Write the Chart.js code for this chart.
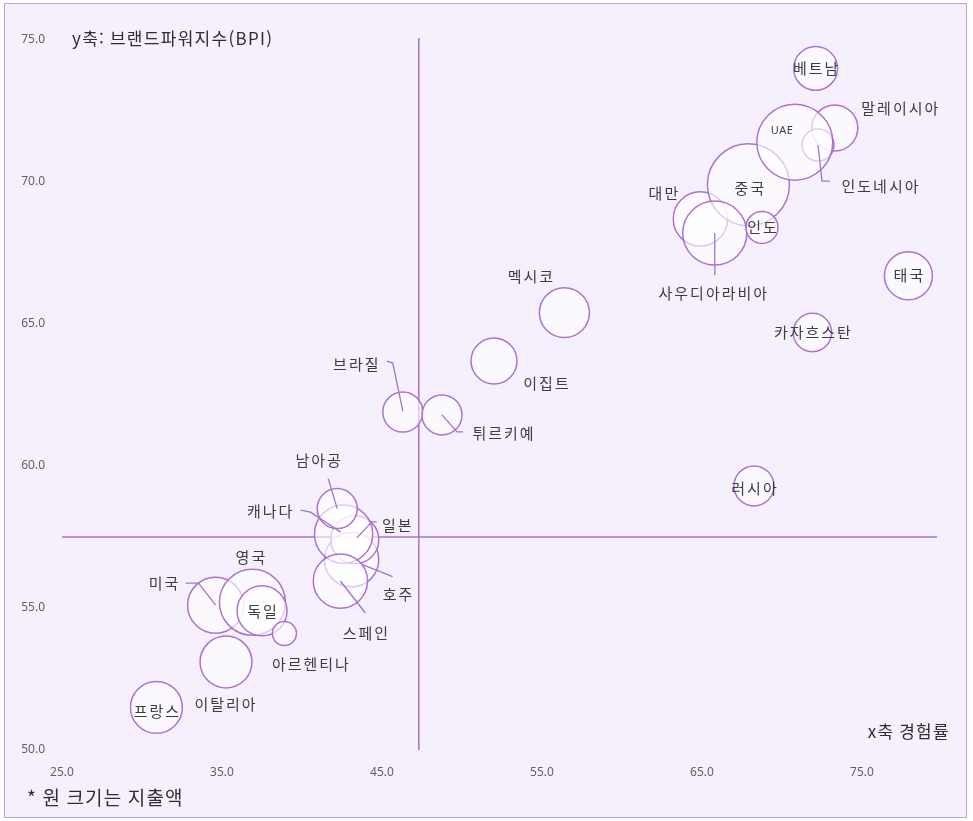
<!DOCTYPE html>
<html lang="ko">
<head>
<meta charset="utf-8">
<title>브랜드파워지수 · 경험률</title>
<script src="https://cdn.jsdelivr.net/npm/chart.js@4.4.1/dist/chart.umd.min.js"></script>
<style>
  html, body { margin: 0; padding: 0; background: #ffffff; }
  #frame {
    position: absolute; left: 4px; top: 3px; width: 963px; height: 815px;
    box-sizing: border-box; border: 1px solid #c3a0da; background: #f5f0fb;
  }
  #c { position: absolute; left: 0; top: 0; }
</style>
</head>
<body>
<div id="frame"></div>
<canvas id="c" width="973" height="821"></canvas>
<script>
// Countries, drawn in this order (later bubbles sit on top of earlier ones)
const countries = [
  '프랑스', '이탈리아', '미국', '영국', '독일', '아르헨티나',
  '호주', '일본', '캐나다', '남아공', '스페인',
  '브라질', '튀르키예', '이집트', '멕시코', '러시아', '카자흐스탄', '태국',
  '대만', '중국', '사우디아라비아', '인도', '말레이시아', '인도네시아', 'UAE', '베트남'
];
// x: 경험률
const experienceRate = [
  30.9, 35.25, 34.6, 36.9, 37.5, 38.9,
  43.1, 43.3, 42.6, 42.2, 42.4,
  46.3, 48.75, 52.0, 56.4, 68.25, 71.9, 77.9,
  64.9, 67.9, 65.8, 68.75, 73.3, 72.25, 70.8, 72.1
];
// y: 브랜드파워지수(BPI)
const brandPowerIndex = [
  51.5, 53.1, 55.1, 55.2, 54.9, 54.1,
  56.7, 57.4, 57.6, 58.5, 55.95,
  61.9, 61.8, 63.7, 65.4, 59.3, 64.7, 66.7,
  68.7, 69.9, 68.2, 68.4, 71.9, 71.3, 71.4, 74.0
];
// 지출액 (relative), shown as bubble area
const spend = [
  42, 42, 49, 68, 39, 9,
  46, 36, 53, 25, 46,
  25, 25, 33, 39, 25, 23, 36,
  46, 105, 64, 16, 33, 16, 90, 30
];
const xTickValues = [25, 35, 45, 55, 65, 75];
const yTickValues = [50, 55, 60, 65, 70, 75];
// quadrant divider lines
const dividerExperience = 47.3;
const dividerBPI = 57.5;

// label placement relative to each bubble centre, with optional leader lines
const labelLayout = {
  '베트남': { dx: 0, dy: 0 },
  '말레이시아': { dx: 65, dy: -20 },
  'UAE': { dx: -13, dy: -11, small: true },
  '인도네시아': { dx: 62, dy: 41, leader: [[0, 0], [4, 36], [12, 36]] },
  '중국': { dx: 1, dy: 3 },
  '대만': { dx: -37, dy: -26 },
  '사우디아라비아': { dx: -2, dy: 60, leader: [[0, 0], [0, 42]] },
  '인도': { dx: 0, dy: 0 },
  '태국': { dx: 0, dy: 0 },
  '카자흐스탄': { dx: 0, dy: 0 },
  '러시아': { dx: 0, dy: 2 },
  '멕시코': { dx: -34, dy: -36 },
  '이집트': { dx: 52, dy: 22 },
  '브라질': { dx: -47, dy: -48, leader: [[0, -1], [-10, -49], [-16, -51]] },
  '튀르키예': { dx: 61, dy: 18, leader: [[0, 0], [15, 17], [21, 17]] },
  '남아공': { dx: -19, dy: -48, leader: [[-9, -30], [0, 0]] },
  '캐나다': { dx: -74, dy: -23, leader: [[-43, -24], [-33, -22], [-3, -2]] },
  '일본': { dx: 42, dy: -15, leader: [[22, -18], [17, -18], [2, -2]] },
  '호주': { dx: 46, dy: 35, leader: [[41, 17], [11, 5]] },
  '스페인': { dx: 25, dy: 52, leader: [[0, 0], [25, 32]] },
  '영국': { dx: -2, dy: -45 },
  '미국': { dx: -52, dy: -22, leader: [[-30, -22], [-17, -22], [0, 0]] },
  '독일': { dx: 0, dy: 0 },
  '아르헨티나': { dx: 26, dy: 31 },
  '이탈리아': { dx: -1, dy: 42 },
  '프랑스': { dx: 0, dy: 4 }
};

const PURPLE = 'rgba(168, 108, 206, 0.95)';
const LINE_PURPLE = '#a474cc';
const TEXT = '#3d3d3d';
const KR_FONT = '"Noto Sans CJK KR", "Noto Sans", sans-serif';

const points = countries.map((name, i) => ({
  x: experienceRate[i],
  y: brandPowerIndex[i],
  r: 4 * Math.sqrt(spend[i]),
  name
}));

// draws text one glyph at a time with extra tracking between glyphs
function spacedText(ctx, text, x, y, spacing, align) {
  const chars = Array.from(text);
  const widths = chars.map(c => ctx.measureText(c).width);
  const total = widths.reduce((a, b) => a + b, 0) + spacing * (chars.length - 1);
  let start = x;
  if (align === 'center') start = x - total / 2;
  else if (align === 'right') start = x - total;
  const prev = ctx.textAlign;
  ctx.textAlign = 'left';
  chars.forEach((c, i) => {
    ctx.fillText(c, start, y);
    start += widths[i] + (c === ' ' ? 0 : spacing);
  });
  ctx.textAlign = prev;
}

// quadrant divider lines, drawn behind the bubbles
const dividerPlugin = {
  id: 'dividers',
  beforeDatasetsDraw(chart) {
    const { ctx, chartArea, scales: { x, y } } = chart;
    ctx.save();
    ctx.strokeStyle = LINE_PURPLE;
    ctx.lineWidth = 1.5;
    const vx = x.getPixelForValue(dividerExperience);
    const hy = y.getPixelForValue(dividerBPI);
    ctx.beginPath();
    ctx.moveTo(vx, chartArea.top - 2);
    ctx.lineTo(vx, chartArea.bottom);
    ctx.moveTo(chartArea.left, hy);
    ctx.lineTo(chartArea.right - 5, hy);
    ctx.stroke();
    ctx.restore();
  }
};

// country names, leader lines and axis captions
const labelPlugin = {
  id: 'countryLabels',
  afterDatasetsDraw(chart) {
    const { ctx, chartArea } = chart;
    const meta = chart.getDatasetMeta(0);
    ctx.save();
    ctx.textBaseline = 'middle';
    meta.data.forEach((el, i) => {
      const name = countries[i];
      const lay = labelLayout[name] || { dx: 0, dy: 0 };
      if (lay.leader) {
        ctx.strokeStyle = LINE_PURPLE;
        ctx.lineWidth = 1.3;
        ctx.beginPath();
        lay.leader.forEach(([lx, ly], k) => {
          if (k === 0) ctx.moveTo(el.x + lx, el.y + ly);
          else ctx.lineTo(el.x + lx, el.y + ly);
        });
        ctx.stroke();
      }
      ctx.fillStyle = TEXT;
      if (lay.small) {
        ctx.font = '11px "Noto Sans", sans-serif';
        spacedText(ctx, name, el.x + lay.dx, el.y + lay.dy, 0.5, 'center');
      } else {
        ctx.font = '15px ' + KR_FONT;
        spacedText(ctx, name, el.x + lay.dx, el.y + lay.dy, 2, 'center');
      }
    });

    ctx.fillStyle = '#2e2e2e';
    ctx.font = '17px ' + KR_FONT;
    spacedText(ctx, 'y축: 브랜드파워지수(BPI)', chartArea.left + 10, chartArea.top - 1, 1.3, 'left');
    spacedText(ctx, 'x축 경험률', chartArea.right + 8, chartArea.bottom - 18, 1.3, 'right');
    ctx.font = '19px ' + KR_FONT;
    spacedText(ctx, '* 원 크기는 지출액', 27, 798, 1.2, 'left');
    ctx.restore();
  }
};

new Chart(document.getElementById('c'), {
  type: 'bubble',
  data: {
    datasets: [{
      data: points,
      backgroundColor: 'rgba(255, 255, 255, 0.62)',
      borderColor: PURPLE,
      borderWidth: 1.5,
      hoverBorderWidth: 1.5,
      hoverRadius: 0
    }]
  },
  options: {
    responsive: false,
    animation: false,
    events: [],
    layout: { autoPadding: false, padding: { top: 40, right: 31, left: 0, bottom: 0 } },
    plugins: { legend: { display: false }, tooltip: { enabled: false } },
    scales: {
      x: {
        type: 'linear', min: 25, max: 80,
        grid: { display: false, drawTicks: false },
        border: { display: false },
        afterBuildTicks: s => { s.ticks = xTickValues.map(v => ({ value: v })); },
        afterFit: s => { s.height = 71; },
        ticks: {
          padding: 15, color: '#626262',
          font: { size: 12, family: '"Noto Sans", sans-serif' },
          callback: v => Number(v).toFixed(1)
        }
      },
      y: {
        type: 'linear', min: 50, max: 75,
        grid: { display: false, drawTicks: false },
        border: { display: false },
        afterBuildTicks: s => { s.ticks = yTickValues.map(v => ({ value: v })); },
        afterFit: s => { s.width = 62; },
        ticks: {
          padding: 17, color: '#626262',
          font: { size: 12, family: '"Noto Sans", sans-serif' },
          callback: v => Number(v).toFixed(1)
        }
      }
    }
  },
  plugins: [dividerPlugin, labelPlugin]
});
</script>
</body>
</html>
